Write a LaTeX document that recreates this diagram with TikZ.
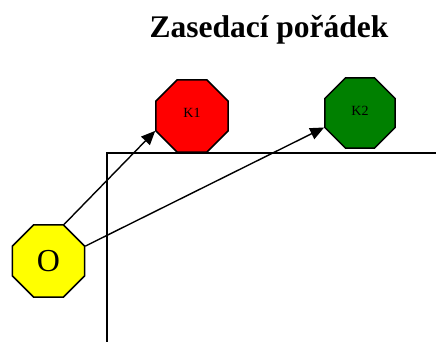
\documentclass[tikz,border=0pt]{standalone}
\usepackage{fontspec}
\setmainfont{Liberation Serif}
\usetikzlibrary{shapes.geometric,arrows.meta}
\definecolor{seatred}{RGB}{255,0,0}
\definecolor{seatgreen}{RGB}{0,128,0}
\definecolor{seatyellow}{RGB}{255,255,0}
\tikzset{
  seat/.style={regular polygon, regular polygon sides=8, draw=black, line width=1.5pt,
    inner sep=0pt, minimum size=78pt},
  link/.style={line width=1.4pt, -{Triangle[length=14pt,width=12pt]}},
  wall/.style={line width=1.1pt}
}
\begin{document}
\begin{tikzpicture}[x=1pt,y=-1pt]
  \useasboundingbox (0,0) rectangle (436,342);
  % title
  \node[font=\fontsize{31.5}{36}\selectfont\bfseries, anchor=base] (title) at (269,38) {Zasedací pořádek};
  % room walls
  \coordinate (wallend) at (436,153);
  \coordinate (corner) at (107,153);
  \coordinate (wallbottom) at (107,342);
  \draw[wall] (wallend) -- (corner) -- (wallbottom);
  % seats
  \node[seat, fill=seatred, minimum size=78pt, font=\fontsize{14}{16}\selectfont] (k1) at (192,116) {\raisebox{7pt}{K1}};
  \node[seat, fill=seatgreen, minimum size=76pt, font=\fontsize{14}{16}\selectfont] (k2) at (360,113) {\raisebox{4pt}{K2}};
  \node[seat, fill=seatyellow, minimum size=78pt, font=\fontsize{32}{36}\selectfont] (o) at (48.5,261) {O};
  % connections
  \draw[link] (o.67.5) -- (k1.202.5);
  \draw[link] (o.22.5) -- (k2.202.5);
\end{tikzpicture}
\end{document}
